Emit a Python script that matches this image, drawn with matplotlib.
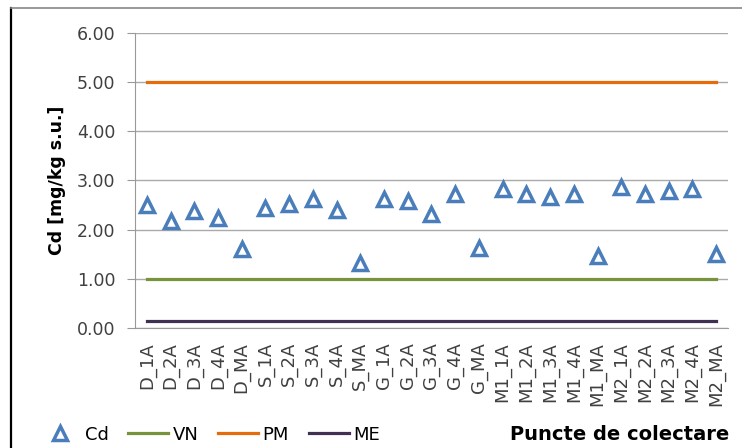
import matplotlib.pyplot as plt
from matplotlib.lines import Line2D
import numpy as np

# date
puncte = ['D_1A', 'D_2A', 'D_3A', 'D_4A', 'D_MA',
          'S_1A', 'S_2A', 'S_3A', 'S_4A', 'S_MA',
          'G_1A', 'G_2A', 'G_3A', 'G_4A', 'G_MA',
          'M1_1A', 'M1_2A', 'M1_3A', 'M1_4A', 'M1_MA',
          'M2_1A', 'M2_2A', 'M2_3A', 'M2_4A', 'M2_MA']
cd = [2.50, 2.18, 2.38, 2.24, 1.60,
      2.45, 2.52, 2.62, 2.40, 1.32,
      2.62, 2.58, 2.32, 2.72, 1.63,
      2.82, 2.73, 2.67, 2.73, 1.47,
      2.87, 2.73, 2.78, 2.83, 1.50]
vn = 1.00
pm = 5.00
me = 0.15

plt.rcParams['font.family'] = ['DejaVu Sans']

fig = plt.figure(figsize=(7.42, 4.48), dpi=100)
ax = fig.add_axes([0.1819, 0.2679, 0.7992, 0.6584])

x = np.arange(len(puncte))
n = len(puncte)

ax.plot(x, [pm] * n, color='#e46c0a', lw=2.3, label='PM', zorder=2)
ax.plot(x, [vn] * n, color='#77933c', lw=2.3, label='VN', zorder=2)
ax.plot(x, [me] * n, color='#403152', lw=2.3, label='ME', zorder=2)
ax.plot(x, cd, linestyle='none', marker='^', markersize=9.5, markerfacecolor='white',
        markeredgecolor='#4a7ebb', markeredgewidth=2.5, label='Cd', zorder=3)

ax.set_xlim(-0.5, n - 0.5)
ax.set_ylim(0, 6)
ax.set_yticks(np.arange(0, 7, 1))
ax.set_yticklabels(['%.2f' % v for v in np.arange(0, 7, 1)], fontsize=12.5, color='#404040')
ax.set_xticks(x)
ax.set_xticklabels(puncte, rotation=90, fontsize=13, color='#404040')
ax.tick_params(axis='x', length=0, pad=10)
ax.tick_params(axis='y', length=6, color='#999999', pad=8)
ax.grid(axis='y', color='#aaaaaa', lw=1)
ax.set_axisbelow(True)
for s in ['top', 'right']:
    ax.spines[s].set_visible(False)
ax.spines['left'].set_color('#999999')
ax.spines['bottom'].set_color('#999999')

ax.set_ylabel('Cd [mg/kg s.u.]', fontsize=12.5, fontweight='bold', labelpad=8)

h, l = ax.get_legend_handles_labels()
order = [3, 1, 0, 2]
fig.legend([h[i] for i in order], [l[i] for i in order], loc='center left',
           bbox_to_anchor=(0.035, 0.03), ncol=4, frameon=False, fontsize=13,
           handlelength=2.2, columnspacing=1.1, handletextpad=0.25, borderpad=0.3)

fig.text(0.687, 0.03, 'Puncte de colectare', fontsize=14, fontweight='bold',
         va='center', ha='left')

# chenar
fig.add_artist(Line2D([11 / 742, 11 / 742], [0, 1 - 8 / 448], color='black', lw=1.6,
                      transform=fig.transFigure))
fig.add_artist(Line2D([11 / 742, 1], [1 - 8 / 448, 1 - 8 / 448], color='#888888', lw=1.2,
                      transform=fig.transFigure))

fig.savefig('out.png', dpi=100)
